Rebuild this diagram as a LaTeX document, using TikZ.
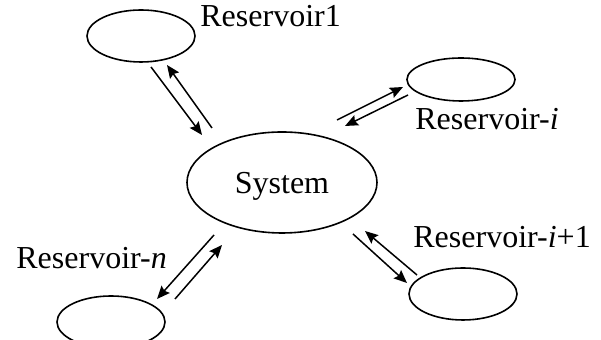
\documentclass[tikz,border=0pt]{standalone}
\usepackage{fontspec}
\setmainfont{Liberation Serif}
\usetikzlibrary{shapes.geometric,arrows.meta}
\tikzset{res/.style={draw, ellipse, line width=0.8pt, inner sep=0pt, minimum width=54pt, minimum height=26pt}}
\tikzset{flow/.style={line width=0.75pt, -{Stealth[length=6.5pt,width=5.5pt,inset=1pt]}}}
\tikzset{lab/.style={anchor=base west, inner sep=0pt, font=\fontsize{16}{19}\selectfont}}

\begin{document}
\begin{tikzpicture}[x=0.5pt,y=-0.5pt]
\useasboundingbox (0,0) rectangle (601,340);

\node[res, minimum width=95pt, minimum height=50.5pt, text depth=0pt, font=\fontsize{16}{19}\selectfont] (sys) at (282,182.5) {System};
\node[res] (r1) at (141,36) {};
\node[res, minimum height=21.5pt] (ri) at (461,79.5) {};
\node[res] (rn) at (111,322) {};
\node[res] (rip) at (463,294) {};

\node[lab] (l1) at (200,27) {Reservoir1};
\node[lab] (li) at (415,130) {Reservoir-\textit{i}};
\node[lab] (ln) at (16,269) {Reservoir-\textit{n}};
\node[lab] (lip) at (413,248) {Reservoir-\textit{i}+1};

% arrow ends
\coordinate (a1) at (151,67);  \coordinate (a2) at (202,135);
\coordinate (a3) at (212,128); \coordinate (a4) at (167,65);
\coordinate (b1) at (337,120); \coordinate (b2) at (403,87);
\coordinate (b3) at (408,95);  \coordinate (b4) at (345,126);
\coordinate (c1) at (214,235); \coordinate (c2) at (157,299);
\coordinate (c3) at (175,299); \coordinate (c4) at (222,245);
\coordinate (d1) at (353,234); \coordinate (d2) at (407,283);
\coordinate (d3) at (417,275); \coordinate (d4) at (365,231);

\draw[flow] (a1) -- (a2);
\draw[flow] (a3) -- (a4);
\draw[flow] (b1) -- (b2);
\draw[flow] (b3) -- (b4);
\draw[flow] (c1) -- (c2);
\draw[flow] (c3) -- (c4);
\draw[flow] (d1) -- (d2);
\draw[flow] (d3) -- (d4);

\end{tikzpicture}
\end{document}
